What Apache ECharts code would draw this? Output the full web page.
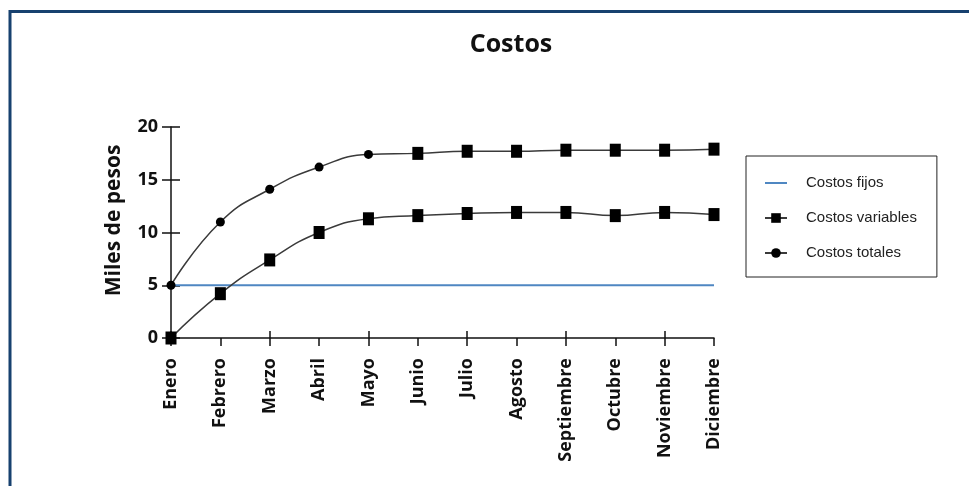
<!DOCTYPE html>
<head>
    <meta charset="utf-8">
    <title>Costos</title>
    <script type="text/javascript" src="https://cdn.jsdelivr.net/npm/echarts@6/dist/echarts.min.js"></script>
    <style>
        html, body { margin: 0; padding: 0; background: #fff; }
        #main { width: 969px; height: 486px; }
    </style>
</head>

<body>
<div id="main"></div>

<script type="text/javascript">
    // datos (miles de pesos)
    var months = ['Enero', 'Febrero', 'Marzo', 'Abril', 'Mayo', 'Junio', 'Julio',
        'Agosto', 'Septiembre', 'Octubre', 'Noviembre', 'Diciembre'];
    var fixedCosts = [5, 5, 5, 5, 5, 5, 5, 5, 5, 5, 5, 5];
    var variableCosts = [0, 4.2, 7.4, 10, 11.3, 11.6, 11.8, 11.9, 11.9, 11.6, 11.9, 11.7];
    var totalCosts = [5, 11, 14.1, 16.2, 17.4, 17.5, 17.7, 17.7, 17.8, 17.8, 17.8, 17.9];
    var yMin = 0, yMax = 20, yStep = 5;

    var font = '"Open Sans", "Noto Sans", sans-serif';
    var lineColor = '#3a3a3a';

    var myChart = echarts.init(document.getElementById('main'));

    var option = {
        animation: false,
        backgroundColor: '#fff',
        graphic: [{
            type: 'rect',
            shape: { x: 10, y: 11.5, width: 1000, height: 520 },
            style: { fill: 'none', stroke: '#17416f', lineWidth: 3 },
            silent: true
        }],
        title: {
            text: 'Costos',
            left: 506,
            top: 27,
            textAlign: 'center',
            textStyle: { fontFamily: font, fontWeight: 'bold', fontSize: 25, color: '#111' }
        },
        legend: {
            orient: 'vertical',
            left: 746,
            top: 156,
            padding: [19, 20, 16, 18],
            itemGap: 19,
            itemWidth: 22,
            itemHeight: 12,
            borderColor: '#222',
            borderWidth: 1,
            textStyle: {
                fontFamily: '"Liberation Sans", Arial, sans-serif',
                fontSize: 15,
                lineHeight: 16,
                color: '#222',
                padding: [0, 0, 0, 14]
            },
            data: [
                // solo la linea, sin marcador
                { name: 'Costos fijos', itemStyle: { color: 'rgba(0,0,0,0)', borderWidth: 0 } },
                { name: 'Costos variables' },
                { name: 'Costos totales' }
            ]
        },
        grid: { left: 171, right: 255, top: 127, bottom: 148 },
        xAxis: [{
            type: 'category',
            data: months,
            boundaryGap: false,
            axisLine: { onZero: false, lineStyle: { color: '#111', width: 1.5 } },
            axisTick: { length: 8, lineStyle: { color: '#111', width: 1.5 } },
            axisLabel: {
                rotate: 90,
                margin: 20,
                fontFamily: font,
                fontWeight: 'bold',
                fontSize: 18,
                color: '#111'
            }
        }, {
            type: 'category',
            data: months,
            boundaryGap: false,
            position: 'bottom',
            axisLine: { show: false },
            axisTick: { inside: true, length: 7, lineStyle: { color: '#111', width: 1.5 } },
            axisLabel: { show: false }
        }],
        yAxis: [{
            type: 'value',
            min: yMin,
            max: yMax,
            interval: yStep,
            name: 'Miles de pesos',
            nameLocation: 'middle',
            nameGap: 46,
            nameTextStyle: {
                fontFamily: font,
                fontWeight: 'bold',
                fontSize: 21,
                color: '#111',
                padding: [0, 0, 0, 24]
            },
            splitLine: { show: false },
            axisLine: { show: true, lineStyle: { color: '#111', width: 1.5 } },
            axisTick: { show: true, length: 9, lineStyle: { color: '#111', width: 1.5 } },
            axisLabel: {
                margin: 13,
                fontFamily: font,
                fontWeight: 'bold',
                fontSize: 18,
                color: '#111'
            }
        }, {
            type: 'value',
            min: yMin,
            max: yMax,
            interval: yStep,
            position: 'left',
            splitLine: { show: false },
            axisLine: { show: false },
            axisTick: { show: true, inside: true, length: 9, lineStyle: { color: '#111', width: 1.5 } },
            axisLabel: { show: false }
        }],
        series: [{
            name: 'Costos fijos',
            type: 'line',
            data: fixedCosts,
            symbol: 'none',
            lineStyle: { color: '#4f87c2', width: 2 },
            itemStyle: { color: '#4f87c2' },
            z: 1
        }, {
            name: 'Costos variables',
            type: 'line',
            data: variableCosts,
            smooth: 0.5,
            symbol: 'rect',
            symbolSize: [11, 13],
            lineStyle: { color: lineColor, width: 1.5 },
            itemStyle: { color: '#000' },
            z: 3
        }, {
            name: 'Costos totales',
            type: 'line',
            data: totalCosts,
            smooth: 0.5,
            // desde junio la grafica original marca con cuadros
            symbol: function (value, params) {
                return params.dataIndex >= 5 ? 'rect' : 'circle';
            },
            symbolSize: function (value, params) {
                return params.dataIndex >= 5 ? [11, 13] : 9;
            },
            lineStyle: { color: lineColor, width: 1.5 },
            itemStyle: { color: '#000' },
            z: 3
        }]
    };

    myChart.setOption(option);
</script>
</body>
